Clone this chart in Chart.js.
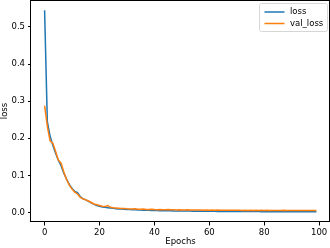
<!DOCTYPE html>
<html>
<head>
<meta charset="utf-8">
<script src="https://cdn.jsdelivr.net/npm/chart.js@4/dist/chart.umd.min.js"></script>
<style>
  html, body { margin: 0; padding: 0; background: #fff; }
  canvas { display: block; }
</style>
</head>
<body>
<canvas id="lossChart" width="330" height="248"></canvas>
<script>
// training history
const epochs = [
  0, 1, 2, 3, 4, 5, 6, 7, 8, 9, 10, 11, 12, 13, 14, 15, 16, 17, 18, 19,
  20, 21, 22, 23, 24, 25, 26, 27, 28, 29, 30, 31, 32, 33, 34, 35, 36, 37, 38, 39,
  40, 41, 42, 43, 44, 45, 46, 47, 48, 49, 50, 51, 52, 53, 54, 55, 56, 57, 58, 59,
  60, 61, 62, 63, 64, 65, 66, 67, 68, 69, 70, 71, 72, 73, 74, 75, 76, 77, 78, 79,
  80, 81, 82, 83, 84, 85, 86, 87, 88, 89, 90, 91, 92, 93, 94, 95, 96, 97, 98, 99
];

const loss = [
  0.545, 0.245, 0.206, 0.181, 0.160, 0.141, 0.126, 0.106, 0.090, 0.076,
  0.065, 0.057, 0.054, 0.043, 0.037, 0.034, 0.030, 0.026, 0.022, 0.019,
  0.017, 0.015, 0.014, 0.013, 0.012, 0.0112, 0.0105, 0.0098, 0.0093, 0.0087,
  0.0083, 0.0079, 0.0076, 0.0072, 0.0069, 0.0067, 0.0064, 0.0061, 0.0060, 0.0057,
  0.0055, 0.0054, 0.0051, 0.0050, 0.0048, 0.0047, 0.0046, 0.0044, 0.0043, 0.0042,
  0.0041, 0.0040, 0.0039, 0.0039, 0.0037, 0.0037, 0.0036, 0.0035, 0.0035, 0.0034,
  0.0033, 0.0033, 0.0032, 0.0031, 0.0031, 0.0030, 0.0030, 0.0029, 0.0029, 0.0028,
  0.0028, 0.0027, 0.0027, 0.0027, 0.0026, 0.0026, 0.0025, 0.0025, 0.0025, 0.0024,
  0.0024, 0.0024, 0.0023, 0.0023, 0.0023, 0.0022, 0.0022, 0.0022, 0.0021, 0.0021,
  0.0021, 0.0021, 0.0020, 0.0020, 0.0020, 0.0020, 0.0019, 0.0019, 0.0019, 0.0019
];

const valLoss = [
  0.288, 0.232, 0.193, 0.187, 0.165, 0.141, 0.133, 0.109, 0.089, 0.074,
  0.063, 0.055, 0.050, 0.041, 0.037, 0.034, 0.031, 0.027, 0.023, 0.021,
  0.019, 0.017, 0.016, 0.019, 0.014, 0.013, 0.0125, 0.0118, 0.0110, 0.0106,
  0.0100, 0.0096, 0.0093, 0.0101, 0.0090, 0.0087, 0.0092, 0.0084, 0.0082, 0.0088,
  0.0080, 0.0078, 0.0082, 0.0075, 0.0074, 0.0079, 0.0072, 0.0073, 0.0070, 0.0075,
  0.0069, 0.0068, 0.0072, 0.0067, 0.0066, 0.0070, 0.0065, 0.0067, 0.0064, 0.0069,
  0.0063, 0.0065, 0.0062, 0.0066, 0.0061, 0.0063, 0.0060, 0.0064, 0.0060, 0.0062,
  0.0059, 0.0063, 0.0058, 0.0061, 0.0058, 0.0062, 0.0057, 0.0060, 0.0056, 0.0059,
  0.0056, 0.0060, 0.0055, 0.0058, 0.0055, 0.0057, 0.0054, 0.0063, 0.0055, 0.0057,
  0.0053, 0.0056, 0.0054, 0.0057, 0.0053, 0.0055, 0.0053, 0.0056, 0.0052, 0.0055
];

const xTickValues = [0, 20, 40, 60, 80, 100];
const yTickValues = [0.0, 0.1, 0.2, 0.3, 0.4, 0.5];

const FONT = 'DejaVu Sans';
const FSIZE = 8.5;

// matplotlib-like box around the axes
const frame = {
  id: 'frame',
  afterDatasetsDraw(chart) {
    const { ctx, chartArea: a } = chart;
    ctx.save();
    ctx.fillStyle = '#000';
    ctx.fillRect(a.left - 1, a.top, a.right - a.left + 1, 1);      // top
    ctx.fillRect(a.left - 1, a.bottom - 1, a.right - a.left + 1, 1); // bottom
    ctx.fillRect(a.left - 1, a.top, 1, a.bottom - a.top);            // left
    ctx.fillRect(a.right - 1, a.top, 1, a.bottom - a.top);           // right
    ctx.restore();
  }
};

// legend in the upper right corner, inside the axes
const boxLegend = {
  id: 'boxLegend',
  afterDraw(chart) {
    const { ctx, chartArea: a } = chart;
    const sets = chart.data.datasets;
    const x0 = a.right - 70.5, y0 = a.top + 3.5, w = 68, h = 28;
    ctx.save();
    ctx.fillStyle = 'rgba(255,255,255,0.8)';
    ctx.strokeStyle = '#d6d6d6';
    ctx.lineWidth = 1;
    ctx.beginPath();
    ctx.roundRect(x0, y0, w, h, 2);
    ctx.fill();
    ctx.stroke();
    ctx.font = FSIZE + 'px "' + FONT + '"';
    ctx.textBaseline = 'middle';
    sets.forEach((ds, i) => {
      const y = y0 + 8.5 + i * 11.5;
      ctx.strokeStyle = ds.borderColor;
      ctx.lineWidth = 1.5;
      ctx.beginPath();
      ctx.moveTo(x0 + 5, y);
      ctx.lineTo(x0 + 25, y);
      ctx.stroke();
      ctx.fillStyle = '#000';
      ctx.fillText(ds.label, x0 + 30.5, y);
    });
    ctx.restore();
  }
};

new Chart(document.getElementById('lossChart'), {
  type: 'line',
  data: {
    labels: epochs,
    datasets: [
      {
        label: 'loss',
        data: loss,
        borderColor: '#1f77b4',
        borderWidth: 1.5,
        pointRadius: 0,
        fill: false,
        tension: 0,
        order: 1
      },
      {
        label: 'val_loss',
        data: valLoss,
        borderColor: '#ff7f0e',
        borderWidth: 1.5,
        pointRadius: 0,
        fill: false,
        tension: 0,
        order: 0
      }
    ]
  },
  options: {
    responsive: false,
    animation: false,
    devicePixelRatio: 1,
    layout: { padding: { top: 0, right: 0, left: 0, bottom: 0 } },
    plugins: {
      legend: { display: false },
      tooltip: { enabled: false }
    },
    scales: {
      x: {
        type: 'linear',
        min: -4.95,
        max: 103.95,
        afterBuildTicks: s => { s.ticks = xTickValues.map(v => ({ value: v })); },
        afterFit: s => { s.height = 26; s.paddingLeft = 0; s.paddingRight = 0; },
        grid: { drawOnChartArea: false, drawTicks: true, tickLength: 3.5, color: '#000' },
        border: { display: false },
        ticks: {
          color: '#000',
          padding: 2,
          maxRotation: 0,
          autoSkip: false,
          font: { family: FONT, size: FSIZE }
        },
        title: {
          display: true,
          text: 'Epochs',
          color: '#000',
          padding: { top: 0, bottom: 1 },
          font: { family: FONT, size: FSIZE }
        }
      },
      y: {
        min: -0.0255,
        max: 0.5725,
        afterBuildTicks: s => { s.ticks = yTickValues.map(v => ({ value: v })); },
        afterFit: s => { s.width = 31; s.paddingTop = 0; s.paddingBottom = 0; },
        grid: { drawOnChartArea: false, drawTicks: true, tickLength: 3, color: '#000' },
        border: { display: false },
        ticks: {
          color: '#000',
          padding: 3,
          font: { family: FONT, size: FSIZE },
          callback: v => v.toFixed(1)
        },
        title: {
          display: true,
          text: 'loss',
          color: '#000',
          padding: { top: 0, bottom: 0 },
          font: { family: FONT, size: FSIZE }
        }
      }
    }
  },
  plugins: [frame, boxLegend]
});
</script>
</body>
</html>
